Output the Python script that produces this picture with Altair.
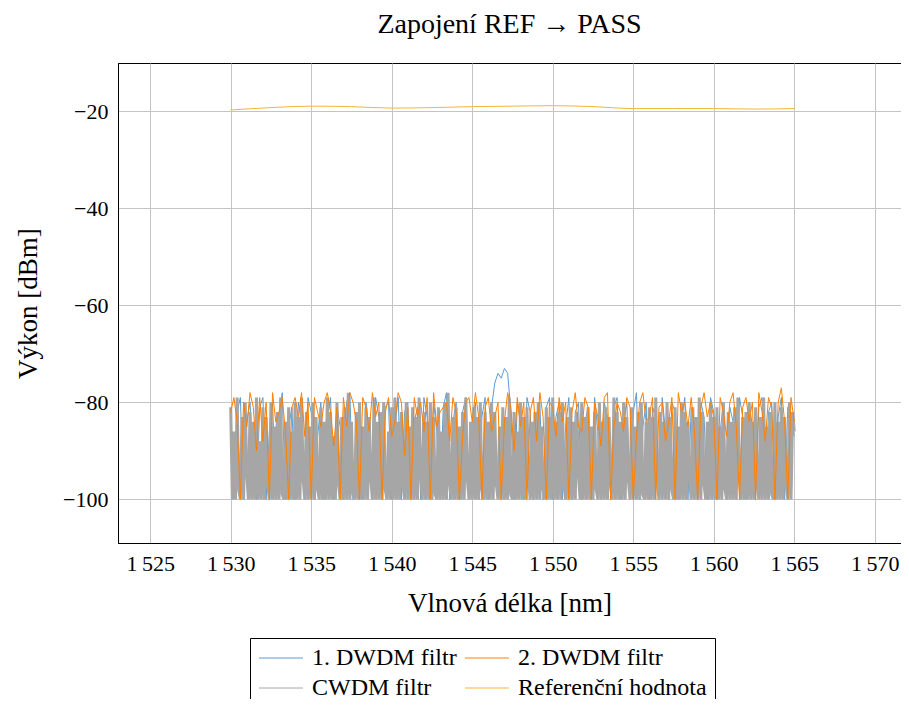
import altair as alt
import numpy as np
import pandas as pd

# Series names (legend order)
SERIES = ["1. DWDM filtr", "2. DWDM filtr", "CWDM filtr", "Referenční hodnota"]
COLORS = ["#5b9bd5", "#ff8000", "#a6a6a6", "#f7b538"]
DRAW_ORDER = [0, 2, 1, 3]   # blue under gray, orange over gray, reference last

# sampling grids (nm)
x_fine = np.round(np.arange(1530.0, 1565.0001, 0.1), 2)   # CWDM
x_mid = np.round(np.arange(1530.0, 1565.0001, 0.2), 2)    # DWDM 1 and 2

cwdm = [
    -81, -100, -86, -100, -79, -98, -100, -83, -100, -80, -95, -100, -82, -100, -84, -100, -79, -100, -88, -100,
    -81, -100, -83, -97, -100, -80, -100, -85, -100, -82, -100, -79, -99, -100, -84, -100, -81, -100, -86, -100,
    -80, -100, -83, -100, -79, -96, -100, -82, -100, -85, -100, -80, -100, -83, -98, -100, -81, -100, -84, -100,
    -79, -100, -82, -100, -87, -100, -80, -97, -100, -83, -100, -81, -100, -78, -100, -84, -99, -100, -82, -100,
    -80, -100, -85, -100, -81, -100, -83, -96, -100, -79, -100, -84, -100, -82, -100, -80, -98, -100, -86, -100,
    -81, -100, -79, -100, -84, -100, -82, -97, -100, -80, -100, -85, -100, -81, -100, -83, -100, -79, -95, -100,
    -82, -100, -84, -100, -80, -100, -83, -99, -100, -81, -100, -86, -100, -80, -100, -78, -97, -100, -83, -100,
    -81, -100, -85, -100, -82, -100, -79, -96, -100, -84, -100, -81, -100, -83, -100, -80, -98, -100, -82, -100,
    -84, -100, -80, -100, -82, -97, -100, -85, -100, -81, -100, -83, -100, -79, -99, -100, -82, -100, -86, -100,
    -80, -100, -83, -100, -81, -96, -100, -84, -100, -82, -100, -80, -100, -85, -98, -100, -81, -100, -83, -100,
    -79, -100, -84, -100, -82, -100, -80, -97, -100, -83, -100, -81, -100, -84, -100, -82, -95, -100, -80, -100,
    -83, -100, -81, -100, -85, -100, -82, -98, -100, -80, -100, -84, -100, -81, -100, -83, -97, -100, -79, -100,
    -82, -100, -84, -100, -80, -100, -83, -96, -100, -81, -100, -85, -100, -82, -100, -80, -99, -100, -84, -100,
    -81, -100, -83, -100, -79, -97, -100, -82, -100, -84, -100, -80, -100, -83, -98, -100, -81, -100, -85, -100,
    -80, -100, -82, -100, -84, -96, -100, -81, -100, -83, -100, -79, -100, -82, -97, -100, -84, -100, -80, -100,
    -83, -100, -81, -100, -85, -100, -80, -98, -100, -82, -100, -84, -100, -81, -100, -79, -96, -100, -83, -100,
    -82, -100, -80, -100, -84, -100, -81, -97, -100, -83, -100, -79, -100, -85, -100, -82, -99, -100, -80, -100,
    -84, -100, -81, -100, -83, -97, -100, -80, -100, -82, -86,
]

dwdm2 = [
    -82, -79, -84, -100, -80, -85, -78, -81, -90, -79,
    -88, -80, -100, -78, -84, -82, -79, -86, -100, -81,
    -79, -83, -78, -87, -80, -100, -79, -82, -85, -80,
    -78, -82, -89, -81, -100, -79, -85, -78, -80, -84,
    -100, -79, -81, -86, -78, -83, -80, -100, -82, -79,
    -87, -84, -78, -80, -91, -81, -100, -79, -83, -80,
    -86, -79, -100, -78, -85, -82, -81, -80, -88, -79,
    -82, -100, -87, -80, -79, -84, -78, -83, -100, -81,
    -79, -86, -83, -80, -100, -84, -78, -81, -90, -79,
    -85, -80, -100, -82, -79, -88, -78, -83, -100, -80,
    -81, -87, -79, -84, -80, -100, -82, -78, -85, -86,
    -79, -81, -100, -80, -83, -89, -79, -78, -100, -85,
    -80, -82, -86, -79, -81, -100, -87, -80, -78, -84,
    -83, -79, -100, -81, -80, -88, -84, -79, -100, -78,
    -82, -80, -85, -79, -86, -100, -81, -78, -83, -80,
    -83, -100, -79, -82, -87, -80, -78, -85, -100, -81,
    -79, -84, -80, -100, -78, -82, -88, -79, -81, -100,
    -80, -77, -84, -100, -79, -84,
]

dwdm1 = [
    -88, -100, -82, -79, -100, -84, -80, -93, -100, -81,
    -79, -100, -86, -80, -100, -83, -78, -100, -85, -81,
    -100, -80, -84, -100, -79, -82, -100, -87, -80, -100,
    -83, -79, -100, -81, -85, -100, -80, -78, -100, -84,
    -82, -100, -80, -86, -100, -79, -83, -100, -81, -80,
    -100, -85, -79, -100, -82, -80, -100, -84, -81, -100,
    -79, -83, -100, -80, -86, -100, -81, -78, -100, -84,
    -80, -100, -82, -79, -100, -85, -80, -100, -83, -79,
    -100, -81, -76, -74, -75, -73, -74, -82, -100, -80,
    -84, -100, -79, -82, -100, -86, -80, -100, -81, -79,
    -100, -83, -80, -100, -85, -79, -100, -82, -80, -100,
    -84, -81, -100, -79, -86, -100, -80, -83, -100, -81,
    -79, -100, -84, -80, -100, -82, -78, -100, -85, -80,
    -100, -81, -83, -100, -79, -86, -100, -80, -82, -100,
    -84, -79, -100, -81, -85, -100, -80, -83, -100, -79,
    -82, -100, -86, -80, -100, -81, -84, -100, -79, -83,
    -100, -80, -85, -100, -81, -79, -100, -82, -80, -100,
    -83, -79, -100, -81, -84, -87,
]

ref_x = [1530, 1532.5, 1535, 1537.5, 1540, 1542.5, 1545, 1547.5, 1550, 1552.5, 1555, 1557.5, 1560, 1562.5, 1565]
ref_y = [-19.7, -19.2, -18.9, -19.0, -19.3, -19.2, -19.0, -18.9, -18.8, -19.0, -19.4, -19.4, -19.4, -19.5, -19.4]

df = pd.concat([
    pd.DataFrame({"x": x_mid, "y": dwdm1, "s": SERIES[0]}),
    pd.DataFrame({"x": x_mid, "y": dwdm2, "s": SERIES[1]}),
    pd.DataFrame({"x": x_fine, "y": cwdm, "s": SERIES[2]}),
    pd.DataFrame({"x": ref_x, "y": ref_y, "s": SERIES[3]}),
], ignore_index=True)

FONT = "Liberation Serif"

xenc = alt.X("x:Q", scale=alt.Scale(domain=[1523, 1571.63], nice=False, zero=False),
             axis=alt.Axis(title="Vlnová délka [nm]", values=list(range(1525, 1571, 5)),
                           labelExpr="substring(toString(datum.value),0,1) + '\u2009' + substring(toString(datum.value),1)"))
yenc = alt.Y("y:Q", scale=alt.Scale(domain=[-109, -10], nice=False, zero=False),
             axis=alt.Axis(title="Výkon [dBm]", values=[-100, -80, -60, -40, -20]))
cenc = alt.Color("s:N", scale=alt.Scale(domain=SERIES, range=COLORS),
                 legend=alt.Legend(title=None, orient="none", legendX=132, legendY=575, columns=2,
                                   direction="horizontal",
                                   symbolType="M-1,0H3", symbolSize=484, symbolStrokeWidth=1,
                                   strokeColor="black", fillColor="white", padding=8,
                                   labelFont=FONT, labelFontSize=24, labelColor="black",
                                   labelLimit=400, columnPadding=6, rowPadding=6, labelOffset=30))

layers = []
for i in DRAW_ORDER:
    name = SERIES[i]
    m = alt.Chart(df).transform_filter(alt.datum.s == name)
    if i == 3:
        layers.append(m.mark_line(strokeWidth=1, interpolate="monotone")
                      .encode(x=xenc, y=yenc, color=cenc, order=alt.Order("x:Q")))
    elif i == 2:
        # dense CWDM trace: constant colour (same as its legend entry), thicker stroke
        layers.append(m.mark_line(strokeWidth=3, color=COLORS[2])
                      .encode(x=xenc, y=yenc, order=alt.Order("x:Q")))
    else:
        layers.append(m.mark_line(strokeWidth=1)
                      .encode(x=xenc, y=yenc, color=cenc, order=alt.Order("x:Q")))

chart = alt.layer(*layers).properties(
    width=783, height=480,
    title=alt.Title("Zapojení REF → PASS", font=FONT, fontSize=28, fontWeight="normal",
                    color="black", offset=24),
    autosize="none",
    padding={"left": 110, "top": 55, "right": 0, "bottom": 156},
).configure_view(stroke="black", strokeWidth=1).configure_axis(
    labelFont=FONT, titleFont=FONT, labelFontSize=22, titleFontSize=27,
    titleFontWeight="normal", labelColor="black", titleColor="black",
    domainColor="black", tickColor="black", gridColor="#c4c4c4", gridWidth=1,
    ticks=False, grid=True,
).configure_axisX(labelPadding=10, titlePadding=16).configure_axisY(labelPadding=10, titlePadding=20)

chart.save("out.html", embed_options={"renderer": "svg", "actions": False})
